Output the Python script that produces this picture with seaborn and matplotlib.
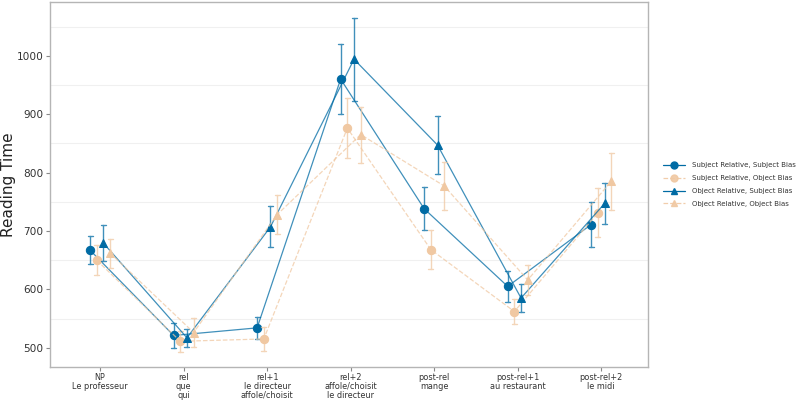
import matplotlib
matplotlib.use("Agg")
import matplotlib.pyplot as plt
from matplotlib.lines import Line2D
from matplotlib.ticker import MultipleLocator
import numpy as np
import pandas as pd
import seaborn as sns

# ---- data ----
regions = ["NP\nLe professeur", "rel\nque\nqui", "rel+1\nle directeur\naffole/choisit",
           "rel+2\naffole/choisit\nle directeur", "post-rel\nmange",
           "post-rel+1\nau restaurant", "post-rel+2\nle midi"]
conditions = ["Subject Relative, Subject Bias", "Subject Relative, Object Bias",
              "Object Relative, Subject Bias", "Object Relative, Object Bias"]

ss_mean = [667, 521, 534, 960, 738, 605, 711]
ss_ci = [24, 22, 19, 60, 37, 26, 38]
so_mean = [650, 511, 515, 876, 668, 562, 731]
so_ci = [26, 18, 20, 51, 34, 21, 42]
os_mean = [679, 517, 707, 994, 847, 585, 747]
os_ci = [31, 15, 35, 71, 49, 24, 35]
oo_mean = [662, 526, 728, 865, 777, 616, 785]
oo_ci = [25, 25, 34, 48, 41, 25, 49]

means = [ss_mean, so_mean, os_mean, oo_mean]
cis = [ss_ci, so_ci, os_ci, oo_ci]

blue = "#006BA4"
peach = "#F0C8A2"
colors = [blue, peach, blue, peach]
markers = ["o", "o", "^", "^"]
linestyles = ["-", "--", "-", "--"]

# long table: lower and upper bound rows -> mean and min/max interval
rows = []
for cond, m, c in zip(conditions, means, cis):
    for reg, mv, cv in zip(regions, m, c):
        rows.append({"region": reg, "cond": cond, "rt": mv - cv})
        rows.append({"region": reg, "cond": cond, "rt": mv + cv})
df = pd.DataFrame(rows)

sns.set_style("white")
plt.rcParams["font.family"] = ["DejaVu Sans"]

fig = plt.figure(figsize=(8, 4), dpi=100)
ax = fig.add_axes([0.0625, 0.0825, 0.7475, 0.9125])

sns.pointplot(data=df, x="region", y="rt", hue="cond", order=regions,
              hue_order=conditions, palette=colors, markers=markers,
              linestyles=linestyles, estimator="mean", errorbar=("pi", 100),
              dodge=0.24, capsize=0.06, markersize=6, linewidth=1.0,
              err_kws={"linewidth": 1.0, "alpha": 0.75}, legend=False, ax=ax)

# lighter connecting lines, solid markers
for ln in ax.lines:
    mk = ln.get_marker()
    if mk not in (None, "", "None", " "):
        rgb = matplotlib.colors.to_rgb(ln.get_color())
        ln.set_color((*rgb, 0.75))
        ln.set_markerfacecolor(rgb)
        ln.set_markeredgecolor(rgb)
        ln.set_linewidth(0.9)

ax.set_xlim(-0.6, 6.56)
ax.set_ylim(467, 1092)
ax.yaxis.set_major_locator(MultipleLocator(100))
ax.yaxis.set_minor_locator(MultipleLocator(100, offset=50))
ax.grid(False)
ax.grid(which="minor", axis="y", color="#f0f0f0", linewidth=0.8)
ax.set_axisbelow(True)

ax.tick_params(axis="both", which="major", length=3, width=0.8, color="#888888",
               labelcolor="#333333", pad=1.5, bottom=True, left=True)
ax.tick_params(axis="x", labelsize=5.9, pad=1.0)
ax.tick_params(axis="y", which="minor", length=0)
ax.tick_params(axis="y", labelsize=7.6)
for lab in ax.get_xticklabels():
    lab.set_linespacing(1.0)
for sp in ax.spines.values():
    sp.set_visible(True)
    sp.set_color("#b5b5b5")
    sp.set_linewidth(1.0)

ax.set_xlabel("")
ax.set_ylabel("Reading Time", fontsize=11, color="#222222")
ax.yaxis.set_label_coords(-0.057, 0.5)

handles = [Line2D([0], [0], color=c, marker=m, linestyle=ls, linewidth=0.9,
                  markersize=5, alpha=1.0 if c == blue else 0.9)
           for c, m, ls in zip(colors, markers, linestyles)]
ax.legend(handles, conditions, loc="center left", bbox_to_anchor=(1.015, 0.5),
          frameon=False, fontsize=5.0, handlelength=3.2, handletextpad=1.0,
          labelspacing=1.0, labelcolor="#333333")

fig.savefig("out.png", dpi=100)
